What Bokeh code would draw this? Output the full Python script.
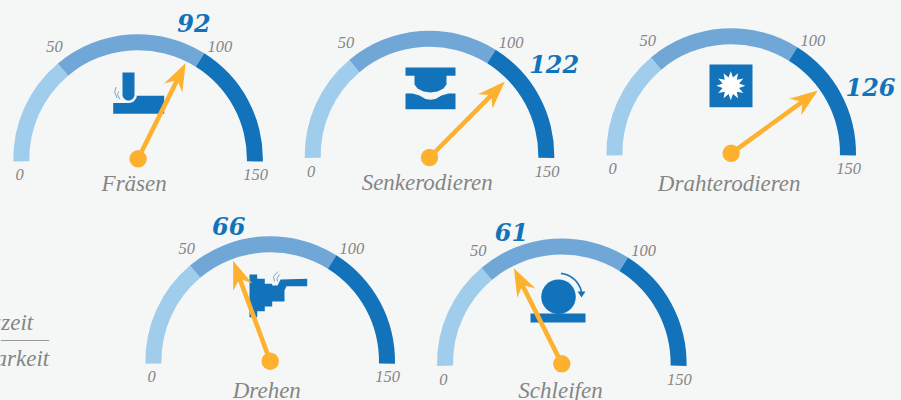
import numpy as np
from bokeh.plotting import figure
from bokeh.embed import file_html
from bokeh.resources import INLINE
from bokeh.core.properties import value
from bokeh.models import GlobalInlineStyleSheet

# --- data ---
processes = ["Fräsen", "Senkerodieren", "Drahterodieren", "Drehen", "Schleifen"]
values = [92, 122, 126, 66, 61]
tick_labels = ["0", "50", "100", "150"]
scale_ticks = [0, 50, 100, 150]
fraction_top = "Nutzzeit"
fraction_bottom = "Verfügbarkeit"
# the printed needles do not follow the scale linearly: angle of each needle as drawn
needle_angles = [63.6, 45.2, 35.9, 110.3, 116.6]

# --- layout, in picture pixels (y downwards) ---
W, H = 901, 400
BG = "#f5f7f7"
SEG = ["#a0cdec", "#71a7d6", "#1373ba"]
ORANGE = "#fdb12f"
GREY = "#858585"
BLUE = "#1373ba"
SERIF = "DejaVu Serif"
LABEL_FONT = "Liberation Serif"
LABEL_SHIFT, TICK_SHIFT, VALUE_SHIFT = 8.0, 6.0, 9.5
cx = [137.6, 429.0, 730.7, 269.7, 561.3]
cy = [158.5, 155.0, 152.5, 360.6, 362.8]
pivot_y = [158.3, 157.0, 152.8, 360.7, 363.3]
label_xy = [(133.7, 190.7), (426.7, 190.2), (728.7, 190.7), (266.3, 398.3), (560.0, 398.3)]
value_xy = [(193.5, 32.0), (553.7, 73.3), (870.0, 96.0), (228.3, 235.0), (511.0, 241.3)]
tick_dx = [-118.5, -83.5, 81.7, 117.5]
tick_dy = [21.7, -106.6, -106.6, 21.7]
scale_angles = [181.2, 130.0, 58.0, -1.2]
R_OUT, R_IN = 124.8, 108.8


def Y(v):
    return H - np.asarray(v, dtype=float)


p = figure(width=W, height=H, x_range=(0, W), y_range=(0, H), min_border=0,
           toolbar_location=None, output_backend="svg", background_fill_color=BG,
           border_fill_color=BG, outline_line_color=None)
p.axis.visible = False
p.grid.visible = False
p.stylesheets = [GlobalInlineStyleSheet(css=f"html,body{{margin:0;padding:0;background:{BG};overflow:hidden}}")]


def poly(pts, color=BLUE):
    a = np.array(pts, dtype=float)
    p.patch(a[:, 0], Y(a[:, 1]), fill_color=color, line_color=None)


def squiggle(pts, color="#71a7d6", w=1.0):
    a = np.array(pts, dtype=float)
    p.line(a[:, 0], Y(a[:, 1]), line_color=color, line_width=w)


def arc_pts(x0, y0, r, a0, a1, n=16):
    t = np.radians(np.linspace(a0, a1, n))
    return list(zip(x0 + r * np.cos(t), y0 - r * np.sin(t)))


# --- icons (drawn under the needles) ---
# Fräsen
poly([(122, 72), (134, 72), (134, 94)] + arc_pts(128, 94, 6, 0, -180) + [(122, 94)])
poly([(112.7, 102.5), (128, 102.5)] + arc_pts(128, 94, 8.5, -90, 0, 8) +
     [(136.5, 95.3), (163.7, 95.3), (163.7, 113.3), (112.7, 113.3)])
squiggle([(115.5, 86.5), (114.2, 92), (116.7, 97.5)])
squiggle([(118, 91), (117, 94), (119.3, 98.5)])
# Senkerodieren
poly([(405, 67), (455, 67), (455, 75.3), (446, 75.3), (446, 84), (443, 88), (437, 91),
      (430, 92), (423, 91), (417, 88), (414, 84), (414, 75.3), (405, 75.3)])
poly([(405, 93), (412, 93), (419, 95), (425, 98.5), (430, 99.3), (435, 98.5), (441, 95),
      (448, 93), (455, 93), (455, 108.7), (405, 108.7)])
# Drahterodieren
poly([(709, 64), (752, 64), (752, 106.7), (709, 106.7)])
star_t = np.radians(np.arange(0, 360, 15) + 90)
star_r = np.where(np.arange(24) % 2 == 0, 14.5, 8.5)
poly(list(zip(730.3 + star_r * np.cos(star_t), 85.3 - star_r * np.sin(star_t))), "#ffffff")
# Drehen
poly([(249, 274), (256.7, 274), (256.7, 278.3), (264.3, 278.3), (264.3, 283.3), (271.7, 283.3),
      (271.7, 285), (277, 285), (280, 279), (306.7, 278.3), (306.7, 285.7), (286, 285.7),
      (284, 290), (284, 301), (271.7, 301), (271.7, 306), (264.3, 306), (264.3, 310.7),
      (256.7, 310.7), (256.7, 316.7), (249, 316.7)])
squiggle([(277.5, 271), (273, 276), (274, 281)])
squiggle([(279, 274), (276.5, 278), (277, 281)])
# Schleifen
p.circle(x=[558.0], y=Y([296.3]), radius=17.3, fill_color=BLUE, line_color=None)
poly([(530, 313), (585, 313), (585, 322), (530, 322)])
rot = np.array(arc_pts(558, 296.3, 23.5, 84, 6, 20))
p.line(rot[:, 0], Y(rot[:, 1]), line_color=BLUE, line_width=1.6)
poly([(577, 291), (585, 291), (581, 297)])

# --- gauges ---
for i, name in enumerate(processes):
    seg_a = np.interp(scale_ticks, scale_ticks, scale_angles)
    for k in range(3):
        p.annular_wedge(x=[cx[i]], y=Y([cy[i]]), inner_radius=R_IN, outer_radius=R_OUT,
                        start_angle=seg_a[k], end_angle=seg_a[k + 1], start_angle_units="deg",
                        end_angle_units="deg", direction="clock",
                        fill_color=SEG[k], line_color=None)
    for lab, dx, dy in zip(tick_labels, tick_dx, tick_dy):
        p.text(x=[cx[i] + dx], y=Y([cy[i] + dy - TICK_SHIFT]), text=[lab], text_font=value(LABEL_FONT),
               text_font_style="italic", text_font_size="16.5px", text_color=GREY,
               text_align="center", text_baseline="alphabetic")
    p.text(x=[label_xy[i][0]], y=Y([label_xy[i][1] - LABEL_SHIFT]), text=[name], text_font=value(LABEL_FONT),
           text_font_style="italic", text_font_size="23px", text_color=GREY,
           text_align="center", text_baseline="alphabetic")
    p.text(x=[value_xy[i][0]], y=Y([value_xy[i][1] - VALUE_SHIFT]), text=[str(values[i])], text_font=value(SERIF),
           text_font_style="bold italic", text_font_size="24px", text_color=BLUE,
           text_align="center", text_baseline="alphabetic")
    # needle
    a = np.radians(needle_angles[i])
    u = np.array([np.cos(a), -np.sin(a)])
    n = np.array([np.sin(a), np.cos(a)])
    o = np.array([cx[i], pivot_y[i]])
    tip = o + 107 * u
    notch = tip - 19 * u
    w1 = tip - 28 * u + 10.2 * n
    w2 = tip - 28 * u - 10.2 * n
    p.line([o[0], notch[0]], Y([o[1], notch[1]]), line_color=ORANGE, line_width=4.6)
    poly([tip, w1, notch, w2], ORANGE)
    p.circle(x=[o[0]], y=Y([o[1]]), radius=8.7, fill_color=ORANGE, line_color=None)

# --- clipped fraction at the left edge ---
p.text(x=[32.7], y=Y([330.0 - LABEL_SHIFT]), text=[fraction_top], text_font=value(LABEL_FONT),
       text_font_style="italic", text_font_size="23px", text_color=GREY,
       text_align="right", text_baseline="alphabetic")
p.text(x=[48.7], y=Y([366.0 - LABEL_SHIFT]), text=[fraction_bottom], text_font=value(LABEL_FONT),
       text_font_style="italic", text_font_size="23px", text_color=GREY,
       text_align="right", text_baseline="alphabetic")
p.line([0, 48.7], Y([340.0, 340.0]), line_color="#9a9a9a", line_width=1.0)

open("out.html", "w").write(file_html(p, INLINE))
